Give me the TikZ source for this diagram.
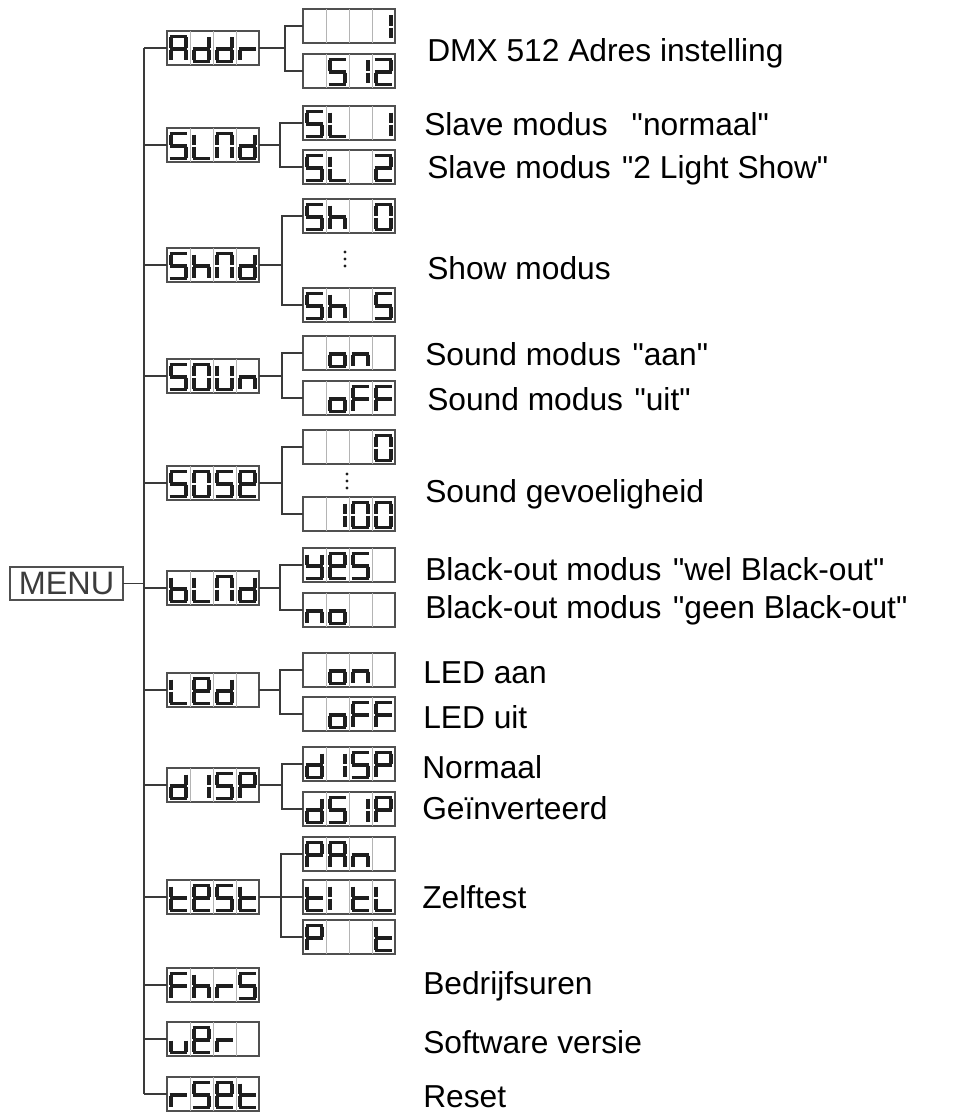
\documentclass[tikz,border=0pt]{standalone}
\usepackage{fontspec}
\setmainfont{Liberation Sans}[Ligatures=TeXOff]
\usetikzlibrary{calc}
\definecolor{connc}{HTML}{3A3A3A}
\definecolor{boxc}{HTML}{505050}
\definecolor{cellc}{HTML}{B4B4B4}
\definecolor{segc}{HTML}{1E1E1E}
\definecolor{menuc}{HTML}{3C3C3C}
\tikzset{
 connl/.style={draw=connc, line width=1.2pt},
 lcdbox/.style={draw=boxc, line width=1.5pt, fill=white, minimum width=69pt, minimum height=25.5pt, inner sep=0pt, outer sep=0pt},
 cellline/.style={draw=cellc, line width=0.75pt},
 seg/.style={draw=segc, line width=2.3pt},
 lbl/.style={anchor=base west, inner sep=0pt, font=\fontsize{23.8pt}{27pt}\selectfont},
 dotm/.style={fill=segc, draw=none, circle, inner sep=0pt, minimum size=2.6pt},
}
\newcommand\qo{\makebox[10.5pt][r]{"}}
\newcommand\qc{\makebox[11.5pt][l]{"}}
\newcommand\sega{\draw[seg] (2.6,5.5) -- (20.4,5.5);}
\newcommand\segb{\draw[seg] (19,6.5) -- (19,17.3);}
\newcommand\segc{\draw[seg] (19,18.7) -- (19,29.5);}
\newcommand\segd{\draw[seg] (2.6,30.5) -- (20.4,30.5);}
\newcommand\sege{\draw[seg] (4,18.7) -- (4,29.5);}
\newcommand\segf{\draw[seg] (4,6.5) -- (4,17.3);}
\newcommand\segg{\draw[seg] (2.6,18) -- (20.4,18);}
\newcommand\lcdchar[2]{\edef\seglist{#2}\ifx\seglist\empty\else\begin{scope}[shift={#1}]\foreach \sg in \seglist {\csname seg\sg\endcsname}\end{scope}\fi}
\newcommand\lcd[6]{%
  \node[lcdbox] (#1) at #2 {};
  \foreach \k in {1,2,3} {\draw[cellline] ($(#1.north west)+(23*\k,0)$) -- ($(#1.south west)+(23*\k,0)$);}
  \lcdchar{(#1.north west)}{#3}%
  \lcdchar{($(#1.north west)+(23,0)$)}{#4}%
  \lcdchar{($(#1.north west)+(46,0)$)}{#5}%
  \lcdchar{($(#1.north west)+(69,0)$)}{#6}%
}
% glyph segment lists
\def\cA{a,b,c,e,f,g}
\def\cd{b,c,d,e,g}
\def\cr{e,g}
\def\cS{a,f,g,c,d}
\def\cL{f,e,d}
\def\cN{a,b,c,e,f}
\def\ch{f,e,g,c}
\def\cO{a,b,c,d,e,f}
\def\cU{b,c,d,e,f}
\def\cn{c,e,g}
\def\co{c,d,e,g}
\def\cF{a,f,e,g}
\def\cE{a,b,d,e,f,g}
\def\cP{a,b,f,g,e}
\def\cb{f,e,d,c,g}
\def\cy{b,c,d,f,g}
\def\ct{f,e,d,g}
\def\cI{b,c}
\def\cIl{e,f}
\def\ctwo{a,b,g,e,d}
\def\cu{c,d,e}
\newcommand\fork[4]{%
  \coordinate (J#1) at (#4,0);
  \draw[connl] (#1.east) -- (#1.east -| J#1);
  \draw[connl] (#2.west) -- (#2.west -| J#1) -- (#3.west -| J#1) -- (#3.west);
}
\begin{document}
\begin{tikzpicture}[x=0.75pt,y=-0.75pt]
\useasboundingbox (0,0) rectangle (959,1113);
\coordinate (T) at (144,0);
% MENU
\node[draw=boxc, line width=1.1pt, minimum width=84.75pt, minimum height=24.75pt, inner sep=0pt, outer sep=0pt, text=menuc, font=\fontsize{24.3pt}{26pt}\selectfont] (menu) at (66.5,583.5) {MENU};
% level 1
\lcd{Addr}{(213,48)}{\cA}{\cd}{\cd}{\cr}
\lcd{SLNd}{(213,145)}{\cS}{\cL}{\cN}{\cd}
\lcd{ShNd}{(213,265)}{\cS}{\ch}{\cN}{\cd}
\lcd{SOUn}{(213,376)}{\cS}{\cO}{\cU}{\cn}
\lcd{SOSE}{(213,483)}{\cS}{\cO}{\cS}{\cE}
\lcd{bLNd}{(213,588)}{\cb}{\cL}{\cN}{\cd}
\lcd{LEd}{(213,690)}{\cL}{\cE}{\cd}{}
\lcd{dISP}{(213,785)}{\cd}{\cI}{\cS}{\cP}
\lcd{tESt}{(213,897)}{\ct}{\cE}{\cS}{\ct}
\lcd{FhrS}{(213,985)}{\cF}{\ch}{\cr}{\cS}
\lcd{uEr}{(213,1039)}{\cu}{\cE}{\cr}{}
\lcd{rSEt}{(213,1094)}{\cr}{\cS}{\cE}{\ct}
% level 2
\lcd{a1}{(349,26)}{}{}{}{\cI}
\lcd{a2}{(349,71)}{}{\cS}{\cI}{\ctwo}
\lcd{s1}{(349,123)}{\cS}{\cL}{}{\cI}
\lcd{s2}{(349,167)}{\cS}{\cL}{}{\ctwo}
\lcd{h1}{(349,216)}{\cS}{\ch}{}{\cO}
\lcd{h2}{(349,305)}{\cS}{\ch}{}{\cS}
\lcd{o1}{(349,353)}{}{\co}{\cn}{}
\lcd{o2}{(349,398)}{}{\co}{\cF}{\cF}
\lcd{e1}{(349,447)}{}{}{}{\cO}
\lcd{e2}{(349,514)}{}{\cI}{\cO}{\cO}
\lcd{b1}{(349,565)}{\cy}{\cE}{\cS}{}
\lcd{b2}{(349,610)}{\cn}{\co}{}{}
\lcd{l1}{(349,670)}{}{\co}{\cn}{}
\lcd{l2}{(349,714)}{}{\co}{\cF}{\cF}
\lcd{d1}{(349,764)}{\cd}{\cI}{\cS}{\cP}
\lcd{d2}{(349,809)}{\cd}{\cS}{\cI}{\cP}
\lcd{t1}{(349,854)}{\cP}{\cA}{\cn}{}
\lcd{t2}{(349,897)}{\ct}{\cIl}{\ct}{\cL}
\lcd{t3}{(349,937)}{\cP}{}{}{\ct}
% dots
\node[dotm] (hd1) at (345,252) {};
\node[dotm] (hd2) at (345,259) {};
\node[dotm] (hd3) at (345,266) {};
\node[dotm] (ed1) at (347,474) {};
\node[dotm] (ed2) at (347,481) {};
\node[dotm] (ed3) at (347,488) {};
% trunk
\draw[connl] (Addr.west -| T) -- (rSEt.west -| T);
\draw[connl] (menu.east) -- (menu.east -| T);
\foreach \n in {Addr,SLNd,ShNd,SOUn,SOSE,bLNd,LEd,dISP,tESt,FhrS,uEr,rSEt}
  {\draw[connl] (\n.west -| T) -- (\n.west);}
% forks
\fork{Addr}{a1}{a2}{285}
\fork{SLNd}{s1}{s2}{280}
\fork{ShNd}{h1}{h2}{282}
\fork{SOUn}{o1}{o2}{282}
\fork{SOSE}{e1}{e2}{282}
\fork{bLNd}{b1}{b2}{280}
\fork{LEd}{l1}{l2}{280}
\fork{dISP}{d1}{d2}{282}
\fork{tESt}{t1}{t3}{281}
\draw[connl] (tESt.east) -- (t2.west);
% labels
\node[lbl] (x1) at (427,62) {DMX 512 Adres instelling};
\node[lbl] (x2) at (424,135) {Slave modus\hspace{16pt}\qo normaal\qc};
\node[lbl] (x3) at (427,178) {Slave modus \qo 2 Light Show\qc};
\node[lbl] (x4) at (427,279) {Show modus};
\node[lbl] (x5) at (425,365) {Sound modus \qo aan\qc};
\node[lbl] (x6) at (427,410) {Sound modus \qo uit\qc};
\node[lbl] (x7) at (425,502) {Sound gevoeligheid};
\node[lbl] (x8) at (425,580) {Black-out modus \qo wel Black-out\qc};
\node[lbl] (x9) at (425,618) {Black-out modus \qo geen Black-out\qc};
\node[lbl] (x10) at (423,683) {LED aan};
\node[lbl] (x11) at (423,728) {LED uit};
\node[lbl] (x12) at (422,778) {Normaal};
\node[lbl] (x13) at (422,819) {Geïnverteerd};
\node[lbl] (x14) at (422,908) {Zelftest};
\node[lbl] (x15) at (423,994) {Bedrijfsuren};
\node[lbl] (x16) at (423,1053) {Software versie};
\node[lbl] (x17) at (423,1107) {Reset};
\end{tikzpicture}
\end{document}
